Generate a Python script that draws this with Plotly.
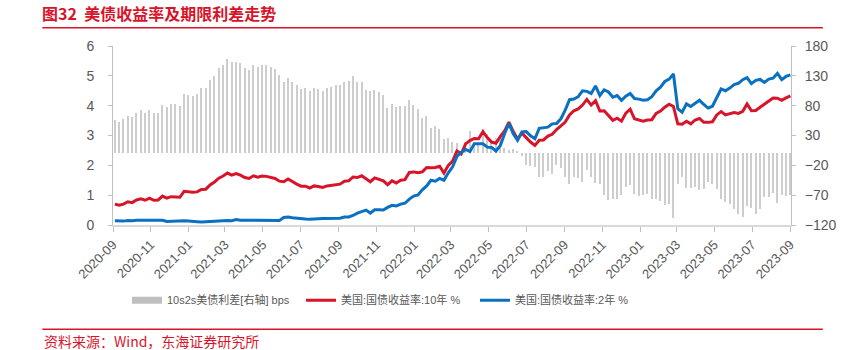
import pandas as pd
import plotly.graph_objects as go

# ---------------- data (weekly) ----------------
dates = pd.date_range('2020-09-18', periods=157, freq='W-FRI')

t10_2020 = [0.70, 0.66, 0.70, 0.78, 0.75, 0.84, 0.88, 0.83, 0.90, 0.83, 0.84, 0.97, 0.90, 0.95, 0.94, 0.93]
t10_2021 = [1.13, 1.11, 1.10, 1.11, 1.19, 1.20, 1.34, 1.44, 1.57, 1.64, 1.74, 1.67,
            1.72, 1.67, 1.59, 1.56, 1.65, 1.60, 1.64, 1.63, 1.59, 1.56, 1.47, 1.45, 1.54,
            1.44, 1.37, 1.30, 1.30, 1.24, 1.31, 1.29, 1.26, 1.31, 1.33, 1.35, 1.37, 1.47,
            1.48, 1.61, 1.59, 1.65, 1.56, 1.45, 1.58, 1.54, 1.48, 1.35, 1.48, 1.41, 1.50, 1.52]
t10_2022 = [1.76, 1.78, 1.75, 1.78, 1.93, 1.92, 1.93, 1.97, 1.74, 2.00, 2.14, 2.48,
            2.39, 2.72, 2.83, 2.90, 2.89, 3.13, 2.93, 2.78, 2.74, 2.96, 3.15, 3.45, 3.13,
            2.88, 3.08, 2.93, 2.78, 2.67, 2.84, 2.85, 2.98, 3.04, 3.20, 3.32, 3.45, 3.69, 3.83,
            3.89, 4.02, 4.21, 4.02, 4.17, 3.82, 3.83, 3.68, 3.51, 3.58, 3.48, 3.75, 3.88]
t10_2023 = [3.56, 3.51, 3.48, 3.52, 3.53, 3.74, 3.82, 3.95, 4.05, 3.97, 3.39, 3.38, 3.48,
            3.39, 3.52, 3.57, 3.44, 3.44, 3.46, 3.69, 3.80, 3.69, 3.74, 3.77, 3.74, 3.81,
            4.06, 3.83, 3.84, 3.95, 4.05, 4.16, 4.26, 4.25, 4.18, 4.26, 4.33]

t2_2020 = [0.14, 0.13, 0.13, 0.15, 0.14, 0.16, 0.16, 0.16, 0.18, 0.16, 0.16, 0.16, 0.12, 0.13, 0.12, 0.13]
t2_2021 = [0.14, 0.13, 0.13, 0.11, 0.10, 0.11, 0.11, 0.14, 0.14, 0.15, 0.15, 0.14,
           0.18, 0.16, 0.16, 0.16, 0.16, 0.15, 0.15, 0.15, 0.14, 0.15, 0.15, 0.25, 0.27,
           0.24, 0.22, 0.22, 0.20, 0.19, 0.21, 0.21, 0.22, 0.22, 0.21, 0.21, 0.23, 0.27,
           0.27, 0.32, 0.40, 0.45, 0.50, 0.40, 0.51, 0.51, 0.50, 0.59, 0.66, 0.64, 0.70, 0.73]
t2_2022 = [0.87, 0.97, 1.01, 1.18, 1.31, 1.50, 1.47, 1.56, 1.50, 1.75, 1.95, 2.30,
           2.44, 2.53, 2.46, 2.72, 2.73, 2.72, 2.61, 2.60, 2.48, 2.66, 3.06, 3.40, 3.06,
           2.84, 3.12, 3.13, 2.99, 2.89, 3.24, 3.25, 3.28, 3.39, 3.40, 3.56, 3.85, 4.20, 4.22,
           4.30, 4.50, 4.48, 4.41, 4.66, 4.34, 4.53, 4.46, 4.28, 4.34, 4.18, 4.32, 4.41]
t2_2023 = [4.24, 4.22, 4.18, 4.20, 4.30, 4.50, 4.62, 4.81, 4.89, 5.06, 3.90, 3.78, 4.06,
           3.97, 4.09, 4.18, 4.04, 3.92, 3.98, 4.28, 4.56, 4.50, 4.59, 4.71, 4.75, 4.87,
           4.94, 4.74, 4.85, 4.88, 4.78, 4.89, 4.92, 5.08, 4.87, 4.98, 5.03]

spread_2020 = [56, 53, 57, 63, 61, 68, 72, 67, 72, 67, 68, 81, 78, 82, 82, 80]
spread_2021 = [99, 98, 97, 100, 109, 109, 123, 130, 143, 149, 159, 153,
               154, 151, 143, 140, 149, 145, 149, 148, 145, 141, 132, 120, 127,
               120, 115, 108, 110, 105, 110, 108, 104, 109, 112, 114, 114, 120,
               121, 129, 119, 120, 106, 105, 107, 103, 98, 76, 82, 77, 80, 79]
spread_2022 = [89, 81, 74, 60, 62, 42, 46, 41, 24, 25, 19, 18,
               -5, 19, 37, 18, 16, 41, 32, 18, 26, 30, 9, 5, 7,
               4, -4, -20, -21, -22, -40, -40, -30, -35, -20, -24, -40, -51, -39,
               -41, -48, -27, -39, -49, -52, -70, -78, -77, -76, -70, -57, -53]
spread_2023 = [-68, -71, -70, -68, -77, -76, -80, -86, -84, -109, -51, -40, -58,
               -58, -57, -61, -60, -48, -52, -59, -76, -81, -85, -94, -101, -106,
               -88, -91, -101, -93, -73, -73, -66, -83, -69, -72, -70]

t10 = t10_2020 + t10_2021 + t10_2022 + t10_2023
t2 = t2_2020 + t2_2021 + t2_2022 + t2_2023
spread = spread_2020 + spread_2021 + spread_2022 + spread_2023

tick_labels = ['2020-09', '2020-11', '2021-01', '2021-03', '2021-05', '2021-07', '2021-09',
               '2021-11', '2022-01', '2022-03', '2022-05', '2022-07', '2022-09', '2022-11',
               '2023-01', '2023-03', '2023-05', '2023-07', '2023-09']
tick_vals = [t + '-15' for t in tick_labels]

left_ticks = [0, 1, 2, 3, 4, 5, 6]
right_ticks = [-120, -70, -20, 30, 80, 130, 180]

# ---------------- styles ----------------
RED = '#d8142a'
BLUE = '#0a70c2'
BARC = '#cdcdcd'
TXT = '#595959'
AXIS = '#bfbfbf'
FONT = 'Liberation Sans, Arial, Noto Sans CJK SC, sans-serif'
CJK = 'Noto Sans CJK SC, Liberation Sans, sans-serif'

fig = go.Figure()
fig.add_trace(go.Bar(x=dates, y=spread, name='10s2s美债利差[右轴] bps',
                     marker=dict(color=BARC, line=dict(width=0)),
                     width=2.2 * 86400000, yaxis='y', showlegend=False,
                     legendgroup='spread'))
# legend-only key for the bar series (wide flat swatch like the original)
fig.add_trace(go.Scatter(x=[None], y=[None], name='10s2s美债利差[右轴] bps', mode='lines',
                         line=dict(color='#bfbfbf', width=7), yaxis='y',
                         legendgroup='spread'))
fig.add_trace(go.Scatter(x=dates, y=t10, name='美国:国债收益率:10年 %', mode='lines',
                         line=dict(color=RED, width=3), yaxis='y2'))
fig.add_trace(go.Scatter(x=dates, y=t2, name='美国:国债收益率:2年 %', mode='lines',
                         line=dict(color=BLUE, width=3), yaxis='y2'))

fig.update_layout(
    width=865, height=350,
    margin=dict(l=113, r=74, t=46, b=125, pad=0),
    paper_bgcolor='white', plot_bgcolor='white',
    font=dict(family=FONT, color=TXT, size=13),
    showlegend=True,
    bargap=0,
    xaxis=dict(type='date', range=['2020-09-15', '2023-09-16'],
               tickmode='array', tickvals=tick_vals, ticktext=tick_labels,
               tickangle=-45, tickfont=dict(size=13, color=TXT),
               showline=True, linecolor='#d9d9d9', linewidth=2,
               ticks='outside', ticklen=5, tickcolor=AXIS,
               showgrid=False, zeroline=False),
    yaxis=dict(side='right', range=[-120, 180], tickmode='array', tickvals=right_ticks,
               tickfont=dict(size=14, color=TXT), showline=True, linecolor=AXIS,
               ticks='outside', ticklen=4, tickcolor=AXIS, showgrid=False, zeroline=False,
               ticklabelstandoff=6),
    yaxis2=dict(side='left', overlaying='y', range=[0, 6], tickmode='array', tickvals=left_ticks,
                tickfont=dict(size=14, color=TXT), showline=True, linecolor=AXIS,
                ticks='outside', ticklen=4, tickcolor=AXIS, showgrid=False, zeroline=False,
                ticklabelstandoff=11),
    legend=dict(orientation='h', x=(127 - 113) / 678, xanchor='left', y=-0.42, yanchor='middle',
                font=dict(size=11, color=TXT, family=FONT), itemwidth=30,
                entrywidth=129, entrywidthmode='pixels',
                bgcolor='rgba(0,0,0,0)'),
    title=dict(text='<b>图32  美债收益率及期限利差走势</b>', x=42 / 865, xref='container',
               xanchor='left', y=1 - 14 / 350, yref='container', yanchor='middle',
               font=dict(size=16, color=RED, family=CJK)),
)

# decorative rules under title and above source
fig.add_shape(type='line', xref='paper', yref='paper', x0=-0.1042, x1=1.047, y0=1.102, y1=1.102,
              line=dict(color=RED, width=1.5))
fig.add_shape(type='line', xref='paper', yref='paper', x0=-0.1042, x1=1.047, y0=-0.583, y1=-0.583,
              line=dict(color=RED, width=1.5))
fig.add_annotation(text='资料来源：Wind，东海证券研究所', xref='paper', yref='paper',
                   x=-0.1042, y=(225 - 341) / 179, xanchor='left', yanchor='middle', showarrow=False,
                   font=dict(size=14, color=RED, family=CJK))

fig.write_html('out.html')
